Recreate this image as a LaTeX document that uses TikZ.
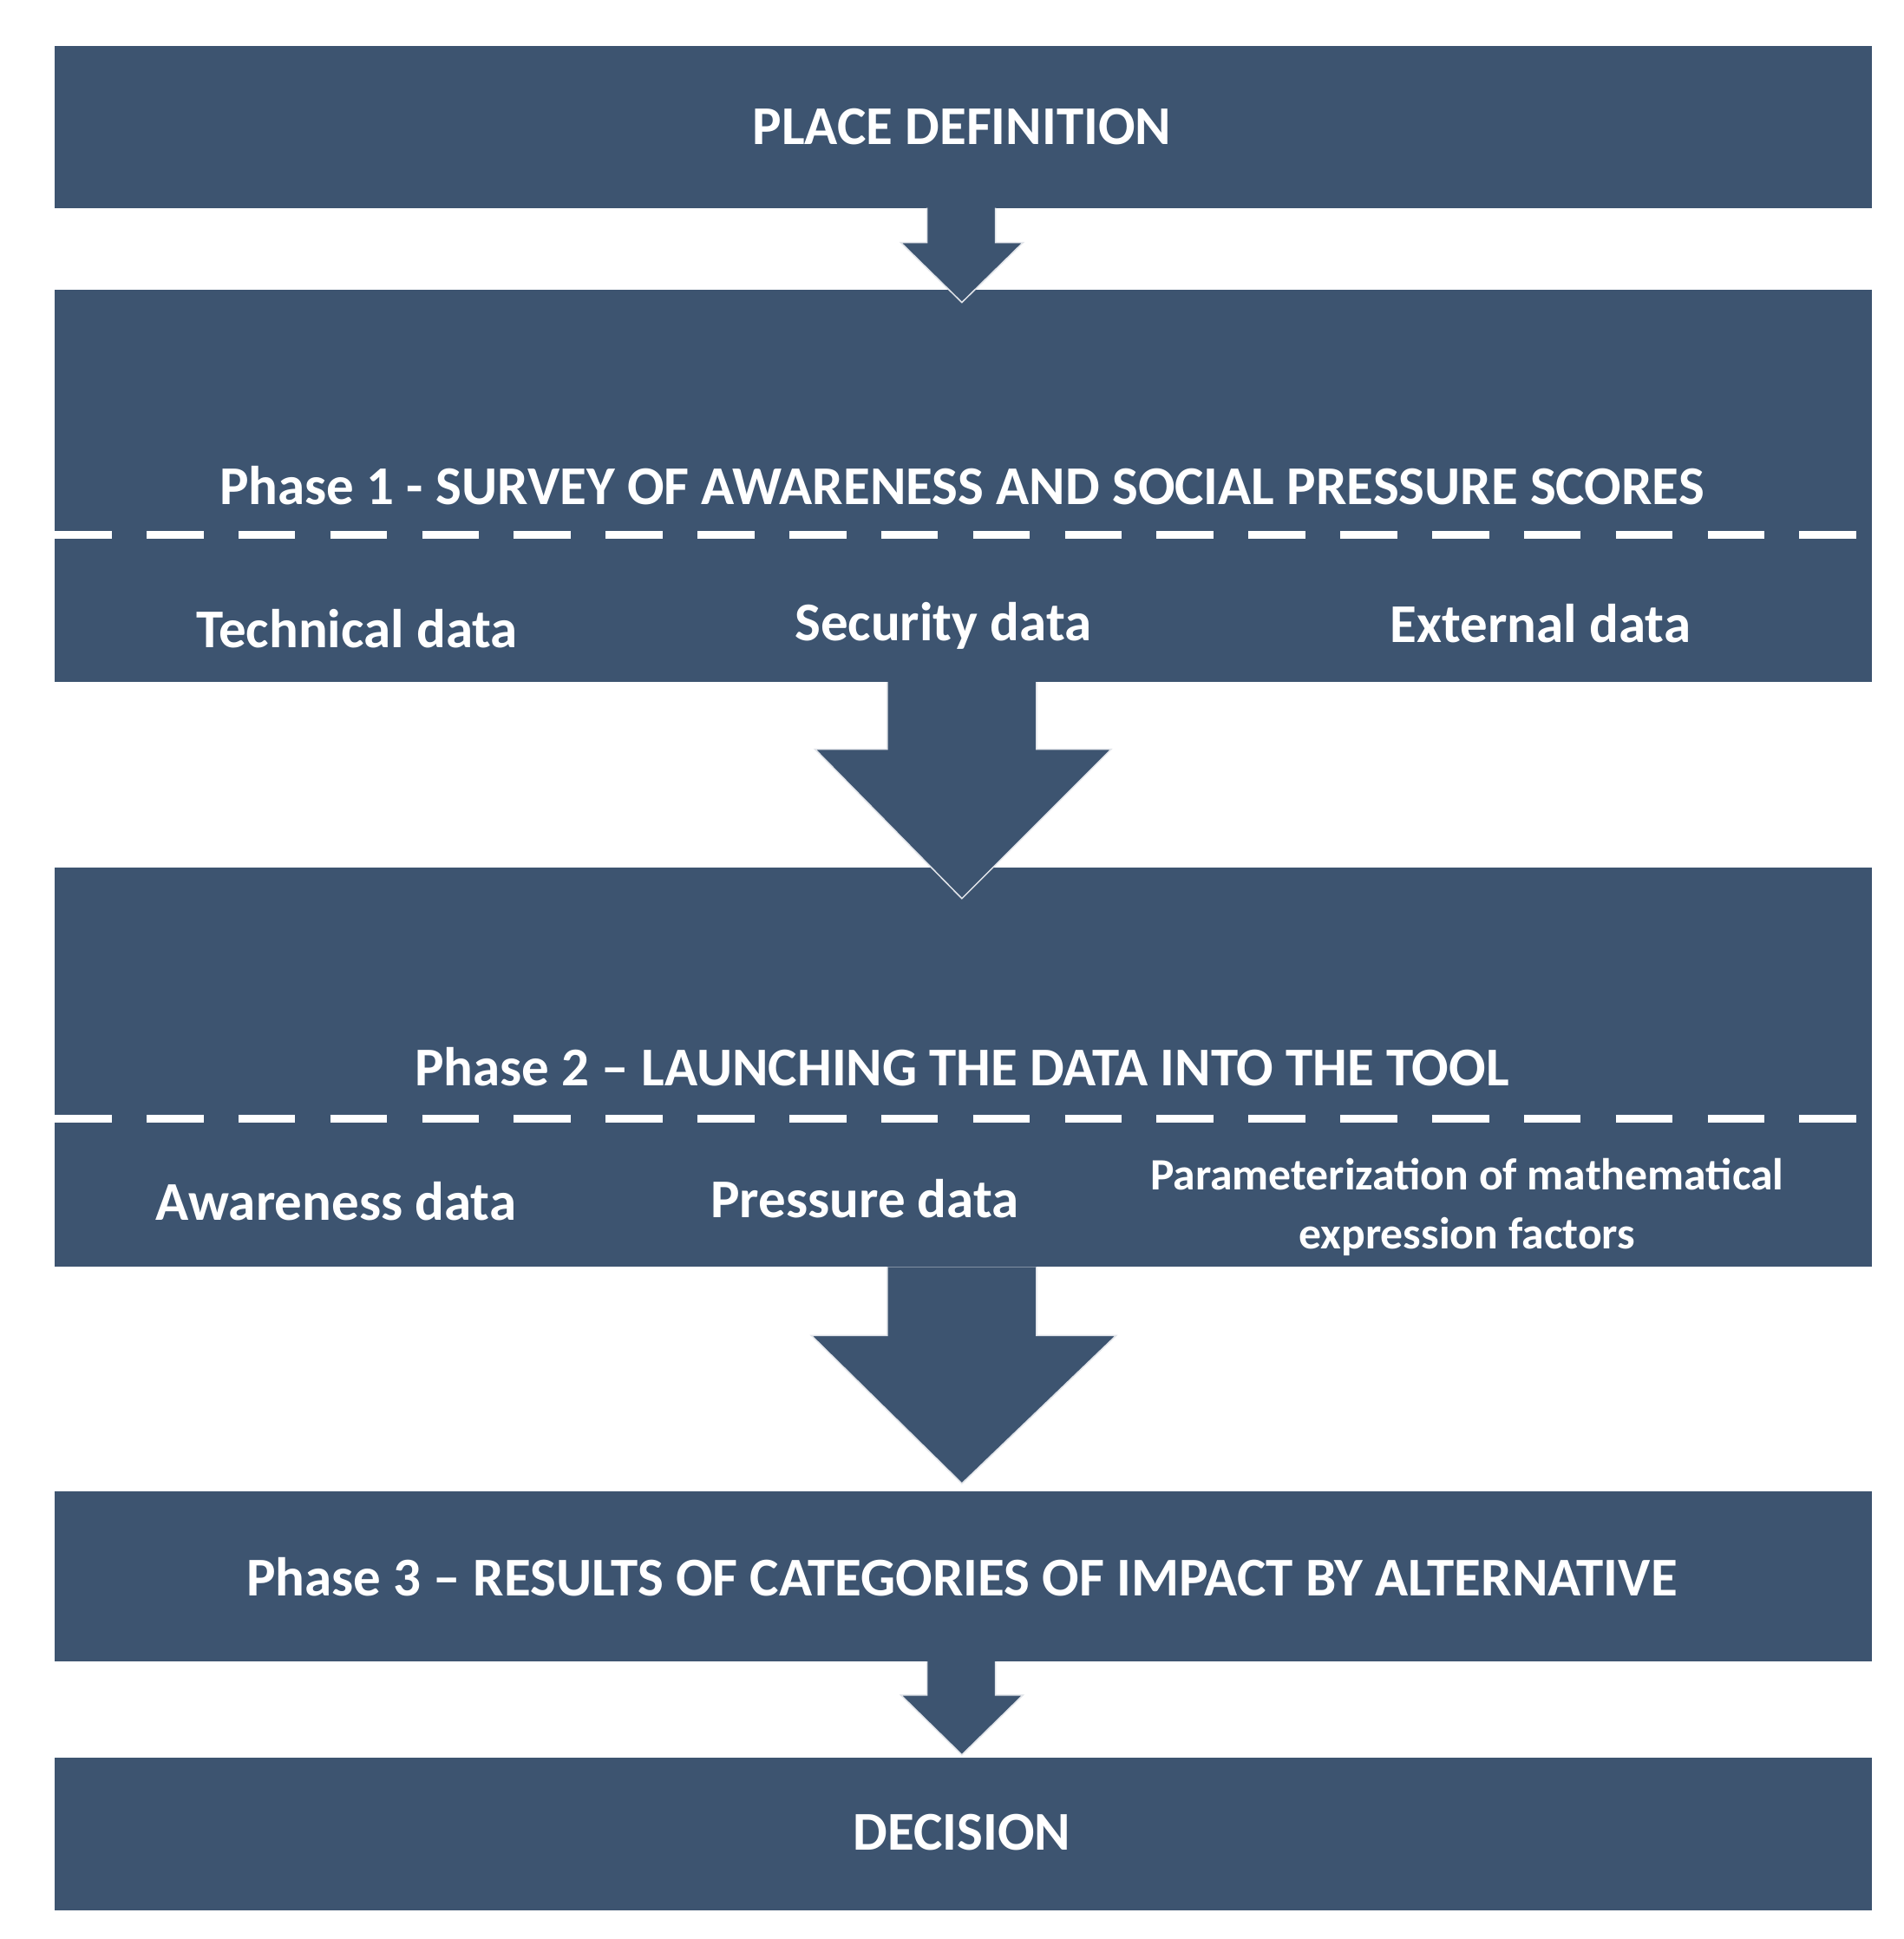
\documentclass[tikz,border=0pt]{standalone}
\usepackage{fontspec}
\setmainfont{Carlito}
\definecolor{bx}{HTML}{3D5470}
\begin{document}
\begin{tikzpicture}[x=0.02cm,y=-0.02cm,
  box/.style={fill=bx,draw=none},
  arr/.style={fill=bx,draw=white!85!bx,line width=0.6pt},
  t/.style={text=white,font=\bfseries\fontsize{25}{29}\selectfont,inner sep=0pt},
  ts/.style={text=white,font=\bfseries\fontsize{20.5}{27}\selectfont,inner sep=0pt,align=center},
  sepline/.style={white,line width=3.5pt,dash pattern=on 26pt off 16pt}]
\useasboundingbox (0,0) rectangle (1530,1558);
\fill[white] (0,0) rectangle (1530,1558);
\fill[box] (44,37) rectangle (1504,167);
\fill[box] (44,233) rectangle (1504,548);
\fill[box] (44,697) rectangle (1504,1018);
\fill[box] (44,1198) rectangle (1504,1335);
\fill[box] (44,1412) rectangle (1504,1535);
\draw[arr] (745,167) -- (745,195) -- (724,195) -- (773,243) -- (822,195) -- (800,195) -- (800,167);
\draw[arr] (713,548) -- (713,602) -- (655,602) -- (773,722) -- (893,602) -- (833,602) -- (833,548);
\draw[arr] (713,1018) -- (713,1073) -- (652,1073) -- (773,1192) -- (897,1073) -- (833,1073) -- (833,1018);
\draw[arr] (745,1335) -- (745,1362) -- (724,1362) -- (773,1410) -- (822,1362) -- (800,1362) -- (800,1335);
\node[t] (a) at (773,102) {PLACE DEFINITION};
\node[t] (b) at (773,390) {Phase 1 - SURVEY OF AWARENESS AND SOCIAL PRESSURE SCORES};
\draw[sepline] (44,430) -- (1504,430);
\node[t] (b1) at (287,505) {Technical data};
\node[t] (b2) at (758,503) {Security data};
\node[t] (b3) at (1238,501) {External data};
\node[t] (c) at (773,857) {Phase 2 -- LAUNCHING THE DATA INTO THE TOOL};
\draw[sepline] (44,899) -- (1504,899);
\node[t] (c1) at (270,965) {Awareness data};
\node[t] (c2) at (695,963) {Pressure data};
\node[ts] (c3) at (1179,970) {Parameterization of mathematical\\expression factors};
\node[t] (d) at (773,1267) {Phase 3 -- RESULTS OF CATEGORIES OF IMPACT BY ALTERNATIVE};
\node[t] (e) at (773,1472) {DECISION};
\end{tikzpicture}
\end{document}
